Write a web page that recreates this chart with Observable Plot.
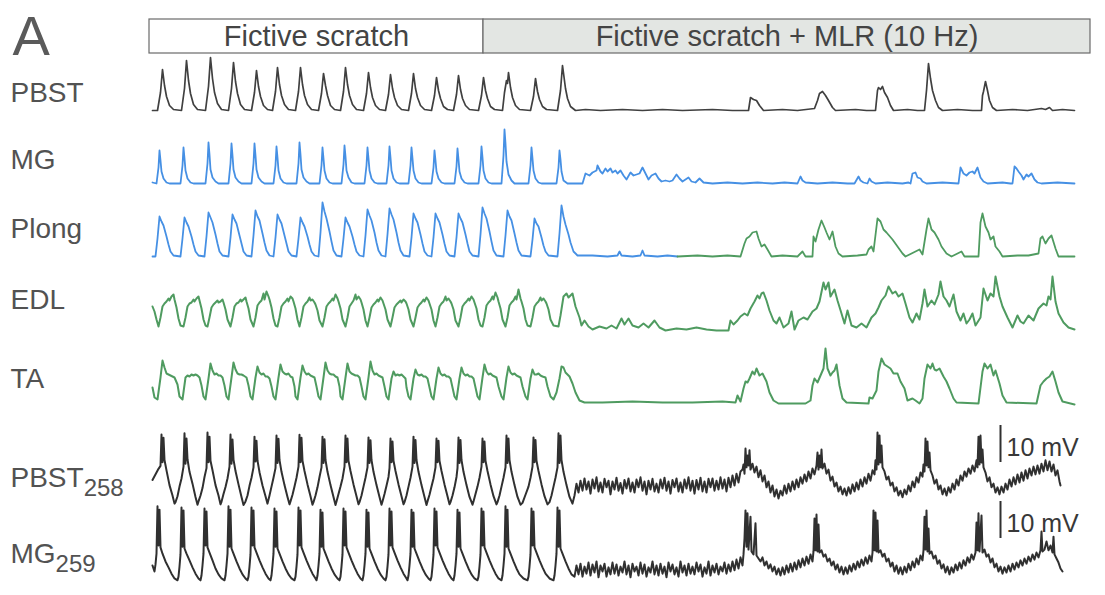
<!DOCTYPE html>
<html>
<head>
<meta charset="utf-8">
<script src="https://cdn.jsdelivr.net/npm/d3@7"></script>
<script src="https://cdn.jsdelivr.net/npm/@observablehq/plot@0.6"></script>
<style>
  html, body { margin: 0; padding: 0; background: #fff; }
  #chart svg { display: block; }
</style>
</head>
<body>
<div id="chart"></div>
<script>
// Recording conditions along the time axis (time in 10-ms bins)
const conditions = [
  {label: "Fictive scratch", start: -3, end: 331},
  {label: "Fictive scratch + MLR (10 Hz)", start: 331, end: 938}
];

// Channel names (ENG nerves, then two intracellular motoneurons)
const channels = ["PBST", "MG", "Plong", "EDL", "TA", "PBST258", "MG259"];
const labelParts = {PBST258: ["PBST", "258"], MG259: ["MG", "259"]};

// Scale bars for the intracellular rows
const scaleBars = [{channel: "PBST258", mV: 10}, {channel: "MG259", mV: 10}];

// Rectified/integrated ENG traces: flat [t, amplitude] pairs (arbitrary units)
const PBST = [0,0, 5,0, 8,18, 10,41, 12,25, 14,14, 17,5, 21,1,
  29,0, 32,22, 34,50, 36,30, 38,17, 41,6, 45,1,
  53,0, 56,24, 58,53, 60,32, 62,18, 65,7, 69,1,
  76,0, 79,22, 81,48, 83,29, 85,17, 88,6, 92,1,
  99,0, 102,18, 104,40, 106,24, 108,14, 111,5, 115,1,
  120,0, 123,19, 125,43, 127,26, 129,15, 132,6, 136,1,
  143,0, 146,19, 148,43, 150,26, 152,15, 155,6, 159,1,
  166,0, 169,17, 171,37, 173,25, 175,15, 178,5, 182,1,
  188,0, 191,19, 193,43, 195,26, 197,15, 200,6, 204,1,
  211,0, 214,17, 216,38, 218,23, 220,13, 223,5, 227,1,
  233,0, 236,16, 238,36, 240,22, 242,13, 245,5, 249,1,
  256,0, 259,17, 261,37, 263,22, 265,13, 268,5, 272,1,
  279,0, 282,15, 284,33, 286,20, 288,12, 291,4, 295,1,
  301,0, 304,16, 306,35, 308,21, 310,12, 313,5, 317,1,
  326,0, 329,15, 331,33, 333,20, 335,12, 338,4, 342,1,
  350,0, 352,18, 354,30, 355,27, 356,38, 358,23, 360,13, 363,5, 367,1,
  378,0, 381,14, 383,32, 385,19, 387,11, 390,4, 394,1,
  405,0, 408,20, 410,45, 413,22, 415,12, 418,4, 423,0,
  433,1, 448,0, 470,1, 490,0, 510,1, 530,0, 560,1, 580,0,
  596,0, 598,13, 601,11, 604,10, 607,5, 611,0, 630,1, 645,0,
  662,2, 665,10, 667,17, 670,19, 673,15, 676,10, 680,3, 683,0, 703,1, 714,0,
  723,0, 725,20, 726,23, 728,21, 730,24, 732,18, 735,13, 738,5, 741,0, 755,1, 765,0,
  772,0, 774,20, 776,47, 778,32, 780,20, 783,10, 786,3, 790,0, 805,1, 820,0,
  829,0, 830,15, 831,19, 833,29, 835,20, 837,10, 840,3, 844,0, 860,1, 875,0,
  889,2, 893,1, 897,3, 900,0, 910,1, 922,0];

const MG = [0,1, 4,0, 6,16, 7,33, 8,23, 9,12, 11,5, 14,1, 17,0,
  28,0, 30,18, 31,36, 32,25, 33,13, 35,5, 38,1, 41,0,
  53,0, 55,20, 56,41, 57,29, 58,14, 60,6, 63,2, 66,0,
  76,0, 78,20, 79,40, 80,28, 81,14, 83,6, 86,2, 89,0,
  99,0, 101,20, 102,40, 103,28, 104,14, 106,6, 109,2, 112,0,
  121,0, 123,18, 124,37, 125,26, 126,13, 128,5, 131,1, 134,0,
  144,0, 146,20, 147,41, 148,29, 149,14, 151,6, 154,2, 157,0,
  167,0, 169,18, 170,36, 171,25, 172,13, 174,5, 177,1, 180,0,
  189,0, 191,19, 192,38, 193,27, 194,13, 196,6, 199,1, 202,0,
  212,0, 214,18, 215,36, 216,25, 217,13, 219,5, 222,1, 225,0,
  234,0, 236,18, 237,37, 238,26, 239,13, 241,5, 244,1, 247,0,
  256,0, 258,18, 259,36, 260,25, 261,13, 263,5, 266,1, 269,0,
  279,0, 281,16, 282,33, 283,23, 284,12, 286,5, 289,1, 292,0,
  302,0, 304,17, 305,35, 306,24, 307,12, 309,5, 312,1, 315,0,
  326,0, 328,18, 329,37, 330,26, 331,13, 333,5, 336,1, 339,0,
  349,0, 351,28, 352,54, 353,40, 354,22, 356,9, 359,3, 362,0,
  376,0, 378,18, 379,36, 380,25, 381,13, 383,5, 386,1, 389,0,
  404,0, 406,16, 407,33, 408,24, 409,12, 411,3, 415,0, 430,0,
  433,10, 437,8, 440,11, 444,13, 445,18, 448,12, 450,10, 453,15, 455,12, 458,15, 460,11,
  463,13, 465,10, 468,13, 471,8, 474,4, 478,11, 481,8, 484,9, 487,10, 490,16, 493,10,
  496,4, 499,8, 503,10, 506,5, 509,2, 513,3, 517,2, 520,3, 524,9, 527,5, 530,2, 536,6,
  539,2, 543,1, 547,5, 551,1, 560,0, 575,1, 590,0, 605,1, 620,0, 632,1, 645,0,
  648,7, 650,3, 653,1, 665,0, 680,1, 695,0, 702,0, 706,7, 708,3, 711,1, 715,0, 717,5,
  719,2, 723,0, 735,1, 750,0, 756,1, 758,0, 760,10, 763,11, 765,6, 768,5, 770,2, 774,0,
  790,1, 806,0, 808,16, 811,10, 814,8, 817,11, 820,12, 822,10, 825,16, 828,6, 831,2, 835,0,
  850,1, 858,0, 860,0, 862,17, 864,15, 866,12, 869,8, 871,4, 874,9, 876,7, 879,10, 882,4,
  885,1, 889,0, 905,1, 922,0];

const Plong = [0,0, 3,0, 5,18, 7,40, 9,35, 11,31, 14,20, 16,12, 18,5, 21,1,
  28,0, 30,18, 32,39, 34,34, 36,30, 39,20, 41,12, 43,5, 46,1,
  52,0, 54,20, 56,44, 58,39, 60,34, 63,22, 65,13, 67,5, 70,1,
  76,0, 78,19, 80,42, 82,37, 84,33, 87,21, 89,13, 91,5, 94,1,
  99,0, 101,21, 103,46, 105,40, 107,36, 110,23, 112,14, 114,6, 117,1,
  121,0, 123,19, 125,42, 127,37, 129,33, 132,21, 134,13, 136,5, 139,1,
  144,0, 146,18, 148,39, 150,34, 152,30, 155,20, 157,12, 159,5, 162,1,
  166,0, 168,24, 170,54, 172,45, 174,38, 177,25, 179,15, 181,6, 184,1,
  189,0, 191,18, 193,39, 195,34, 197,30, 200,20, 202,12, 204,5, 207,1,
  211,0, 213,21, 215,47, 217,41, 219,36, 222,24, 224,14, 226,6, 229,1,
  233,0, 235,22, 237,48, 239,42, 241,37, 244,24, 246,14, 248,6, 251,1,
  257,0, 259,19, 261,43, 263,38, 265,34, 268,22, 270,13, 272,5, 275,1,
  279,0, 281,19, 283,43, 285,38, 287,34, 290,22, 292,13, 294,5, 297,1,
  302,0, 304,19, 306,43, 308,38, 310,34, 313,22, 315,13, 317,5, 320,1,
  326,0, 328,22, 330,49, 332,43, 334,38, 337,25, 339,15, 341,6, 344,1,
  351,0, 353,21, 355,46, 357,40, 359,36, 362,23, 364,14, 366,6, 369,1,
  378,0, 380,17, 382,38, 384,33, 386,30, 389,19, 391,11, 393,5, 396,1,
  405,0, 407,23, 409,51, 411,40, 413,32, 416,22, 418,14, 421,5, 425,1,
  440,1, 455,0, 465,1, 467,5, 469,1, 480,0, 488,1, 490,6, 492,1, 505,0, 515,1, 525,0,
  545,1, 560,0, 575,1, 588,0, 592,13, 594,18, 597,20, 600,24, 604,25, 606,18, 609,10,
  612,12, 615,7, 619,0, 630,1, 645,0, 650,5, 653,0, 660,0, 661,20, 663,15, 666,27, 669,36,
  672,29, 674,24, 677,17, 680,25, 683,10, 686,3, 690,0, 705,1, 714,2, 716,7, 719,10, 721,5,
  725,38, 728,35, 731,27, 734,24, 740,17, 745,10, 750,3, 753,0, 763,5, 767,7, 770,2, 774,27,
  776,38, 779,27, 782,24, 786,17, 789,10, 794,3, 799,0, 809,5, 812,0, 826,0, 828,34, 830,43,
  833,30, 836,24, 838,17, 841,20, 843,10, 847,5, 850,0, 865,1, 876,1, 886,3, 888,18, 890,20,
  893,13, 896,18, 899,21, 903,8, 906,0, 922,0];
// Plong switches from the scratch overlay colour to the MLR overlay colour here
const plongSwitch = 525;

const EDL = [0,23, 2,18, 4,10,
  6,3, 8,12, 10,23, 12,26, 14,28, 16,31, 17,29, 19,33, 21,35, 22,30, 24,22, 26,11, 28,4,
  31,3, 33,12, 35,23, 37,26, 39,27, 41,30, 42,28, 44,31, 46,33, 47,29, 49,21, 51,10, 53,4,
  55,3, 57,12, 59,22, 61,25, 63,27, 65,29, 66,27, 68,28, 70,30, 71,27, 73,20, 75,10,
  78,3, 80,12, 82,23, 84,26, 86,27, 88,30, 89,28, 91,30, 93,32, 94,28, 96,21, 98,10,
  101,3, 103,12, 105,24, 107,27, 109,29, 111,36, 112,30, 114,38, 116,33, 117,30, 119,22, 121,11, 123,4,
  125,3, 127,12, 129,23, 131,26, 133,28, 135,31, 136,28, 138,33, 140,31, 141,28, 143,21, 145,10,
  147,3, 149,12, 151,23, 153,26, 155,28, 157,32, 158,29, 160,30, 162,27, 163,25, 165,19, 167,9,
  170,3, 172,12, 174,23, 176,26, 178,28, 180,31, 181,29, 183,35, 185,31, 186,28, 188,21, 190,10,
  193,3, 195,12, 197,23, 199,26, 201,29, 203,35, 204,30, 206,33, 208,30, 209,27, 211,20, 213,9,
  215,3, 217,12, 219,22, 221,25, 223,27, 225,30, 226,28, 228,32, 230,29, 231,26, 233,20, 235,10,
  238,3, 240,12, 242,22, 244,25, 246,27, 248,29, 249,27, 251,30, 253,28, 254,26, 256,20, 258,10,
  261,3, 263,12, 265,22, 267,25, 269,27, 271,30, 272,28, 274,32, 276,29, 277,26, 279,20, 281,9,
  283,3, 285,12, 287,23, 289,26, 291,28, 293,33, 294,29, 296,31, 298,28, 299,26, 301,20, 303,9,
  306,3, 308,12, 310,23, 312,26, 314,28, 316,31, 317,29, 319,33, 321,30, 322,27, 324,21, 326,10, 328,4,
  330,3, 332,12, 334,24, 336,27, 338,29, 340,33, 341,30, 343,37, 345,32, 346,28, 348,21, 350,10,
  353,3, 355,12, 357,24, 359,27, 361,29, 363,33, 364,30, 366,40, 368,31, 369,28, 371,21, 373,10, 375,4,
  378,3, 380,12, 382,23, 384,26, 386,28, 388,32, 389,29, 391,31, 393,28, 394,26, 396,20, 398,10, 401,4,
  406,3, 408,14, 411,33, 414,36, 416,32, 418,34, 420,36, 423,23, 427,12, 429,4, 432,9, 436,3, 440,0,
  447,3, 454,1, 459,4, 464,1, 469,11, 472,5, 476,11, 480,4, 486,2, 491,6, 496,2, 502,9, 507,2,
  513,-1, 524,1, 534,0, 544,2, 554,0, 564,-1, 576,-1,
  578,9, 581,5, 585,9, 588,13, 592,16, 595,14, 598,21, 602,28, 605,34, 607,31, 609,36, 611,37,
  614,29, 617,19, 621,9, 624,6, 627,12, 631,2, 636,6, 639,18, 642,0, 646,9, 651,12, 655,10,
  660,18, 664,21, 667,28, 671,47, 673,40, 676,47, 678,33, 682,40, 685,29, 689,16, 692,6, 695,19,
  699,4, 704,2, 709,6, 714,2, 719,12, 723,16, 726,22, 729,29, 733,34, 736,43, 740,36, 743,38,
  746,33, 750,36, 753,26, 757,12, 760,7, 764,16, 767,10, 770,26, 772,40, 775,23, 779,29, 782,25,
  786,35, 788,48, 791,33, 794,29, 797,23, 801,35, 804,18, 808,9, 811,16, 814,6, 817,10, 820,16,
  823,4, 828,12, 831,41, 835,29, 838,36, 841,33, 843,53, 847,33, 850,23, 855,12, 860,2, 865,14,
  868,8, 871,6, 876,14, 881,9, 886,21, 891,26, 894,24, 896,33, 898,30, 900,53, 903,28, 906,16,
  911,7, 916,2, 922,0];

const TA = [0,15, 2,5,
  5,3, 8,25, 10,42, 12,35, 14,29, 16,28, 18,27, 20,26, 22,25, 25,18, 27,6,
  30,3, 33,25, 35,27, 37,26, 39,28, 41,27, 43,28, 45,27, 47,25, 49,17, 51,6,
  53,3, 56,24, 58,39, 60,32, 62,28, 64,29, 66,27, 68,27, 70,25, 72,17, 74,6,
  76,3, 79,25, 81,40, 83,33, 85,29, 87,28, 89,28, 91,27, 94,25, 96,17, 98,6,
  100,3, 103,25, 105,36, 107,30, 109,28, 111,29, 113,26, 115,26, 117,24, 119,16, 121,6,
  123,3, 126,25, 128,38, 130,31, 132,29, 134,28, 136,29, 138,26, 140,25, 142,16, 143,6,
  145,3, 148,25, 150,37, 152,31, 154,28, 156,29, 158,27, 160,26, 162,25, 164,16, 166,6,
  168,3, 171,25, 173,40, 175,32, 177,29, 179,28, 181,28, 183,26, 185,25, 187,16, 188,6,
  190,3, 193,25, 195,39, 197,31, 199,29, 201,28, 203,27, 205,27, 207,25, 209,16, 211,6,
  213,3, 216,25, 218,41, 220,32, 222,28, 224,29, 226,27, 228,26, 230,25, 232,16, 234,6,
  236,3, 239,24, 241,31, 243,27, 245,28, 247,27, 249,28, 251,26, 253,24, 254,15, 256,6,
  258,3, 261,24, 263,33, 265,28, 267,27, 269,28, 271,26, 273,26, 275,24, 277,15, 279,6,
  281,3, 284,24, 286,35, 288,29, 290,27, 292,28, 294,26, 296,26, 298,24, 300,15, 302,6,
  304,3, 307,24, 309,35, 311,29, 313,27, 315,28, 317,26, 319,26, 321,24, 323,15, 325,6,
  327,3, 330,25, 332,38, 334,31, 336,28, 338,29, 340,27, 342,26, 344,25, 346,16, 349,6,
  351,3, 354,25, 356,36, 358,30, 360,28, 362,29, 364,27, 366,26, 368,25, 370,16, 373,6,
  375,3, 378,24, 380,33, 382,28, 384,28, 386,29, 388,27, 390,26, 393,25, 395,16, 398,6,
  401,3, 404,10, 407,24, 409,36, 411,35, 413,30, 415,28, 417,26, 420,19, 423,10, 427,2, 432,0,
  450,0, 480,1, 510,0, 540,0, 570,1, 583,0,
  585,7, 588,1, 591,14, 593,21, 595,20, 597,24, 600,31, 602,28, 604,34, 607,27, 610,29, 614,21,
  617,10, 621,2, 626,-1, 653,-1,
  658,2, 660,17, 662,24, 665,20, 668,27, 671,34, 673,54, 675,34, 678,27, 680,30, 682,32, 684,38,
  687,17, 690,4, 694,0, 716,-1,
  717,5, 720,4, 724,12, 726,31, 729,44, 731,40, 732,38, 735,36, 738,34, 741,29, 745,29, 748,21,
  752,14, 755,2, 760,4, 763,2, 767,-1,
  770,4, 772,24, 775,38, 778,34, 780,39, 782,33, 784,32, 787,34, 791,26, 794,21, 797,14, 801,4,
  804,0, 826,-1,
  830,31, 832,39, 835,34, 838,38, 841,27, 843,32, 847,19, 850,7, 854,0, 884,-1,
  888,17, 891,21, 894,24, 897,26, 900,31, 903,21, 906,10, 910,1, 922,-2];

// Intracellular membrane potential: flat [t, mV] pairs, relative to each row's reference
const PBST258 = [0,-1.2, 2,-0.2, 4,0.8, 6,1.8, 8,2.6, 9,11.1, 10,3.6, 11,10.2, 12,4.2, 14,1.4, 17,-2.6, 20,-5.4, 22,-7.6,
  23,-7.2, 25,-5.6, 27,-3.0, 29,-0.8, 31,2.4, 32,11.4, 33,3.2, 34,10.0, 35,4.4, 37,1.0, 40,-2.2, 43,-5.8, 45,-7.9,
  46,-7.0, 48,-5.4, 50,-3.4, 52,-0.4, 54,2.0, 55,11.6, 56,3.6, 57,10.5, 58,4.0, 60,1.4, 63,-2.6, 66,-5.4, 68,-7.8,
  69,-7.1, 71,-5.0, 73,-3.1, 75,-0.8, 77,2.4, 78,11.1, 79,3.2, 80,9.7, 81,4.3, 83,1.2, 86,-2.4, 89,-5.8, 91,-8.0,
  93,-7.0, 95,-5.4, 97,-2.8, 99,-0.6, 101,2.2, 102,10.5, 103,3.8, 104,9.4, 105,4.0, 107,0.9, 110,-2.7, 113,-5.6,
  115,-7.6, 117,-5.4, 119,-3.0, 121,-0.6, 123,2.0, 124,10.8, 125,3.4, 126,9.9, 127,4.2, 129,1.0, 132,-2.6, 135,-5.8, 137,-7.8,
  138,-7.0, 140,-5.2, 142,-3.0, 144,-0.6, 146,2.4, 147,11.0, 148,3.6, 149,10.2, 150,4.0, 152,1.2, 155,-2.4, 158,-5.6, 160,-7.9,
  161,-7.2, 163,-5.4, 165,-3.2, 167,-0.4, 169,2.2, 170,10.5, 171,3.4, 172,9.8, 173,4.2, 175,1.0, 178,-2.6, 181,-5.8, 183,-8.0,
  184,-7.0, 186,-5.0, 188,-3.0, 190,-0.8, 192,2.4, 193,10.8, 194,3.6, 195,10.0, 196,4.0, 198,1.2, 201,-2.4, 204,-5.6, 206,-7.8,
  207,-7.2, 209,-5.4, 211,-3.0, 213,-0.6, 215,2.2, 216,10.3, 217,3.4, 218,9.5, 219,4.2, 221,1.0, 224,-2.6, 227,-5.8, 229,-7.9,
  230,-7.0, 232,-5.0, 234,-2.8, 236,-0.4, 237,2.0, 238,10.0, 239,3.6, 240,9.2, 241,4.0, 243,1.2, 246,-2.4, 249,-5.6, 251,-7.8,
  252,-7.2, 254,-5.4, 256,-3.0, 258,-0.6, 260,2.4, 261,10.5, 262,3.4, 263,9.6, 264,4.2, 266,1.0, 269,-2.6, 272,-5.8, 274,-8.0,
  275,-7.0, 277,-5.2, 279,-3.0, 281,-0.8, 283,2.2, 284,10.0, 285,3.6, 286,9.4, 287,4.0, 289,1.2, 292,-2.4, 295,-5.6, 297,-7.8,
  298,-7.2, 300,-5.4, 302,-3.2, 304,-0.4, 305,2.0, 306,10.3, 307,3.4, 308,9.6, 309,4.2, 311,1.0, 314,-2.6, 317,-5.8, 320,-7.9,
  321,-7.0, 323,-5.0, 325,-3.0, 327,-0.6, 329,2.4, 330,10.0, 331,3.6, 332,9.2, 333,4.0, 335,1.2, 338,-2.4, 341,-5.6, 344,-7.8,
  345,-7.2, 347,-5.4, 349,-3.0, 351,-0.6, 353,2.2, 354,10.8, 355,3.4, 356,10.0, 357,4.2, 359,1.0, 362,-2.6, 365,-5.8, 368,-7.9,
  370,-7.4, 373,-5.2, 376,-3.0, 378,-0.6, 380,2.4, 381,10.3, 382,3.6, 383,9.6, 384,4.0, 386,1.2, 389,-2.4, 392,-5.6, 395,-7.8,
  397,-7.2, 399,-5.4, 401,-3.0, 403,-0.6, 405,2.2, 406,11.4, 407,3.4, 408,10.8, 409,4.2, 411,1.0, 414,-2.6, 417,-5.8, 420,-7.6,
  422,-5.4, 424,-2.2, 426,-4.6, 428,-1.4, 430,-4.1, 432,-0.8, 434,-3.8, 436,-1.6, 438,-4.9, 440,-1.1, 442,-3.5, 444,-0.5,
  446,-4.3, 448,-1.9, 450,-4.6, 452,-0.9, 454,-3.2, 456,-1.4, 458,-5.1, 460,-1.6, 462,-3.8, 464,-0.6, 466,-4.1, 468,-2.0,
  470,-4.9, 472,-1.2, 474,-3.5, 476,-0.8, 478,-4.3, 480,-1.9, 482,-4.6, 484,-1.1, 486,-3.2, 488,-0.5, 490,-4.1, 492,-1.6,
  494,-5.1, 496,-1.4, 498,-3.8, 500,-0.9, 502,-4.3, 504,-2.2, 506,-4.6, 508,-1.1, 510,-3.5, 512,-0.6, 514,-4.1, 516,-1.6,
  518,-4.9, 520,-1.2, 522,-3.2, 524,-0.8, 526,-4.3, 528,-1.9, 530,-4.6, 532,-1.1, 534,-3.5, 536,-0.5, 538,-4.1, 540,-1.4,
  542,-4.9, 544,-1.2, 546,-3.8, 548,-0.6, 550,-4.3, 552,-1.6, 554,-4.6, 556,-0.9, 558,-3.2, 560,-0.8, 562,-4.1, 564,-1.4,
  566,-3.8, 568,-0.5, 570,-3.5, 572,-1.1, 574,-4.3, 576,-0.6, 578,-3.2, 580,0.0, 582,-2.7, 584,0.5, 586,-1.9, 588,1.1,
  590,1.6, 591,3.0, 592,0.5, 593,7.3, 594,2.2, 595,5.4, 596,2.7, 597,6.8, 598,1.6, 600,3.2, 602,0.8, 604,2.4, 606,-0.5,
  608,1.4, 610,-1.6, 612,0.0, 614,-3.2, 616,-1.6, 618,-4.6, 620,-2.7, 622,-5.7, 624,-3.8, 626,-6.2, 628,-4.1, 630,-5.4,
  632,-2.7, 634,-4.9, 636,-2.2, 638,-4.3, 640,-1.6, 642,-3.8, 644,-1.1, 646,-3.2, 648,-0.5, 650,-2.2, 652,0.3, 654,-1.6,
  656,1.1, 658,-0.8, 660,1.9, 662,0.3, 664,2.7, 665,6.2, 666,1.6, 667,5.4, 668,2.2, 669,7.0, 670,1.9, 672,3.2, 674,0.5,
  676,1.6, 678,-1.4, 680,-0.3, 682,-3.0, 684,-1.9, 686,-4.3, 688,-3.0, 690,-5.1, 692,-3.5, 694,-5.4, 696,-3.2, 698,-4.9,
  700,-2.4, 702,-4.3, 704,-1.9, 706,-3.8, 708,-1.1, 710,-3.0, 712,-0.5, 714,-2.2, 716,0.5, 718,-1.4, 720,1.4, 722,0.3,
  723,4.1, 724,1.6, 725,11.6, 726,3.0, 727,10.8, 728,3.5, 729,8.1, 730,2.2, 732,1.1, 734,-1.1, 736,-0.3, 738,-2.7,
  740,-1.9, 742,-4.3, 744,-3.2, 746,-5.4, 748,-4.1, 750,-5.9, 752,-3.8, 754,-5.1, 756,-2.7, 758,-4.3, 760,-1.6, 762,-3.2,
  764,-0.5, 766,-1.9, 768,0.8, 770,-0.3, 771,3.0, 772,1.1, 773,10.0, 774,2.7, 775,9.2, 776,2.2, 777,6.2, 778,1.4, 780,0.0,
  782,-2.2, 784,-1.1, 786,-3.8, 788,-2.7, 790,-5.1, 792,-3.5, 794,-5.4, 796,-3.2, 798,-4.6, 800,-2.2, 802,-3.8, 804,-1.1,
  806,-2.7, 808,0.0, 810,-1.4, 812,1.1, 814,-0.3, 816,1.9, 818,0.5, 820,2.7, 822,1.1, 824,4.1, 825,2.2, 826,10.5, 827,3.0,
  828,10.8, 829,3.5, 830,7.0, 831,2.2, 833,0.8, 835,-1.6, 837,-0.5, 839,-3.2, 841,-2.2, 843,-4.6, 845,-3.2, 847,-5.1,
  849,-3.0, 851,-4.6, 853,-2.2, 855,-3.8, 857,-1.1, 859,-3.0, 861,-0.5, 863,-2.4, 865,0.3, 867,-1.9, 869,0.8, 871,-1.4,
  873,1.4, 875,-0.8, 877,1.9, 879,0.0, 881,2.4, 883,0.3, 885,2.7, 887,0.5, 889,3.2, 891,1.1, 893,4.1, 895,1.4, 897,3.8,
  899,1.1, 901,3.0, 903,0.0, 905,1.4, 907,-1.6, 908,-2.7];

const MG259 = [0,-4.6, 2,-6.2, 3,-4.3, 4,-1.4, 5,11.4, 6,0.8, 7,10.5, 8,0.3, 10,-1.4, 13,-3.5, 16,-5.1, 19,-6.8, 22,-8.1, 25,-8.6,
  26,-7.6, 27,-4.9, 28,-1.6, 29,11.1, 30,0.5, 31,10.3, 32,0.0, 34,-1.4, 37,-3.2, 40,-5.1, 43,-6.8, 46,-8.1, 48,-8.6,
  49,-7.3, 50,-4.6, 51,-1.4, 52,10.8, 53,0.8, 54,10.0, 55,0.3, 57,-1.1, 60,-3.2, 63,-5.4, 66,-7.0, 69,-8.1, 72,-8.6,
  73,-7.3, 74,-4.6, 75,-1.4, 76,11.4, 77,0.5, 78,10.5, 79,0.0, 81,-1.4, 84,-3.5, 87,-5.4, 90,-7.0, 93,-8.1, 95,-8.6,
  96,-7.6, 97,-4.9, 98,-1.6, 99,11.1, 100,0.8, 101,10.3, 102,0.3, 104,-1.1, 107,-3.2, 110,-5.1, 113,-6.8, 116,-8.1, 118,-8.6,
  119,-7.3, 120,-4.6, 121,-1.4, 122,10.8, 123,0.5, 124,10.0, 125,0.0, 127,-1.4, 130,-3.5, 133,-5.4, 136,-7.0, 139,-8.1, 142,-8.6,
  143,-7.6, 144,-4.9, 145,-1.6, 146,11.1, 147,0.8, 148,10.3, 149,0.3, 151,-1.1, 154,-3.2, 157,-5.1, 160,-6.8, 163,-8.1, 164,-8.6,
  165,-7.3, 166,-4.6, 167,-1.4, 168,10.5, 169,0.5, 170,9.7, 171,0.0, 173,-1.4, 176,-3.5, 179,-5.4, 182,-7.0, 185,-8.1, 187,-8.6,
  188,-7.6, 189,-4.9, 190,-1.6, 191,10.8, 192,0.8, 193,10.0, 194,0.3, 196,-1.1, 199,-3.2, 202,-5.1, 205,-6.8, 208,-8.1, 210,-8.6,
  211,-7.3, 212,-4.6, 213,-1.4, 214,10.5, 215,0.5, 216,9.7, 217,0.0, 219,-1.4, 222,-3.5, 225,-5.4, 228,-7.0, 231,-8.1, 233,-8.6,
  234,-7.6, 235,-4.9, 236,-1.6, 237,10.8, 238,0.8, 239,10.0, 240,0.3, 242,-1.1, 245,-3.2, 248,-5.1, 251,-6.8, 254,-8.1, 255,-8.6,
  256,-7.3, 257,-4.6, 258,-1.4, 259,10.5, 260,0.5, 261,9.7, 262,0.0, 264,-1.4, 267,-3.5, 270,-5.4, 273,-7.0, 276,-8.1, 278,-8.6,
  279,-7.6, 280,-4.9, 281,-1.6, 282,10.8, 283,0.8, 284,10.0, 285,0.3, 287,-1.1, 290,-3.2, 293,-5.1, 296,-6.8, 299,-8.1, 301,-8.6,
  302,-7.3, 303,-4.6, 304,-1.4, 305,10.5, 306,0.5, 307,9.7, 308,0.0, 310,-1.4, 313,-3.5, 316,-5.4, 319,-7.0, 322,-8.1, 325,-8.6,
  326,-7.6, 327,-4.9, 328,-1.6, 329,10.8, 330,0.8, 331,10.0, 332,0.3, 334,-1.1, 337,-3.2, 340,-5.1, 343,-6.8, 346,-8.1, 349,-8.6,
  350,-7.3, 351,-4.6, 352,-1.4, 353,11.4, 354,0.5, 355,10.5, 356,0.0, 358,-1.4, 361,-3.5, 364,-5.4, 367,-7.0, 371,-8.1, 375,-8.6,
  376,-7.6, 377,-4.9, 378,-1.6, 379,10.8, 380,0.8, 381,10.0, 382,0.3, 384,-1.1, 387,-3.2, 390,-5.1, 393,-6.8, 397,-8.1, 401,-8.6,
  402,-7.3, 403,-4.6, 404,-1.4, 405,11.1, 406,0.5, 407,10.3, 408,0.0, 410,-1.4, 413,-3.5, 416,-5.4, 419,-7.0, 422,-7.6,
  424,-4.6, 426,-7.0, 428,-4.1, 430,-7.6, 432,-4.9, 434,-6.8, 436,-3.8, 438,-7.3, 440,-4.3, 442,-6.5, 444,-3.5, 446,-7.8,
  448,-4.6, 450,-6.2, 452,-4.1, 454,-7.6, 456,-5.1, 458,-7.0, 460,-3.8, 462,-6.8, 464,-4.3, 466,-7.3, 468,-4.9, 470,-6.5,
  472,-3.5, 474,-7.0, 476,-4.6, 478,-7.8, 480,-4.1, 482,-6.2, 484,-4.9, 486,-7.3, 488,-3.8, 490,-6.8, 492,-4.3, 494,-7.6,
  496,-5.1, 498,-6.5, 500,-3.5, 502,-7.0, 504,-4.6, 506,-7.3, 508,-4.1, 510,-6.8, 512,-4.9, 514,-7.8, 516,-3.8, 518,-6.2,
  520,-4.3, 522,-7.0, 524,-5.1, 526,-7.6, 528,-3.5, 530,-6.5, 532,-4.6, 534,-7.3, 536,-4.1, 538,-6.8, 540,-4.9, 542,-7.0,
  544,-3.8, 546,-6.2, 548,-4.3, 550,-7.6, 552,-5.1, 554,-6.8, 556,-3.5, 558,-7.3, 560,-4.6, 562,-6.5, 564,-4.1, 566,-7.0,
  568,-4.9, 570,-6.2, 572,-3.8, 574,-6.8, 576,-4.3, 578,-6.2, 580,-3.5, 582,-5.9, 584,-3.0, 586,-5.4, 588,-2.4, 590,-4.6,
  591,-1.6, 592,2.7, 593,10.3, 594,0.5, 595,9.5, 596,-0.3, 598,8.6, 599,-0.8, 601,-1.6, 603,6.8, 604,-1.9, 606,-2.7,
  608,-3.5, 610,-2.4, 612,-4.6, 614,-3.5, 616,-5.4, 618,-4.3, 620,-6.2, 622,-4.9, 624,-7.0, 626,-5.4, 628,-7.3, 630,-5.1,
  632,-7.0, 634,-4.6, 636,-6.5, 638,-4.1, 640,-6.2, 642,-3.8, 644,-5.7, 646,-3.2, 648,-5.1, 650,-2.7, 652,-4.6, 654,-2.2,
  656,-4.1, 658,-1.6, 660,-3.5, 661,-0.8, 662,8.1, 663,-0.5, 664,9.2, 665,-0.8, 666,6.5, 667,-1.1, 669,-0.5, 671,-2.2,
  673,-1.6, 675,-3.5, 677,-2.7, 679,-4.6, 681,-3.5, 683,-5.7, 685,-4.3, 687,-6.5, 689,-4.9, 691,-7.0, 693,-5.1, 695,-6.8,
  697,-4.6, 699,-6.2, 701,-4.1, 703,-5.7, 705,-3.5, 707,-5.1, 709,-3.0, 711,-4.6, 713,-2.4, 715,-4.1, 717,-1.9, 719,-3.5,
  720,-1.1, 721,10.3, 722,-0.5, 723,9.7, 724,-0.8, 725,7.6, 726,-1.1, 728,-0.5, 730,-2.2, 732,-1.4, 734,-3.5, 736,-2.7,
  738,-4.9, 740,-3.8, 742,-6.2, 744,-4.6, 746,-6.8, 748,-5.1, 750,-7.0, 752,-4.9, 754,-6.5, 756,-4.1, 758,-5.9, 760,-3.5,
  762,-5.1, 764,-2.7, 766,-4.3, 768,-1.9, 770,-3.2, 771,-0.5, 772,8.6, 773,-0.3, 774,10.3, 775,-0.8, 776,5.4, 777,-1.4,
  779,-0.8, 781,-2.7, 783,-1.9, 785,-4.1, 787,-3.2, 789,-5.4, 791,-4.3, 793,-6.5, 795,-4.9, 797,-7.0, 799,-5.1, 801,-6.5,
  803,-4.3, 805,-5.9, 807,-3.8, 809,-5.4, 811,-3.2, 813,-4.6, 815,-2.4, 817,-3.8, 819,-1.6, 821,-3.0, 823,-1.1, 824,7.0,
  825,-0.5, 826,9.5, 827,-0.8, 829,8.9, 830,-1.1, 832,-0.3, 834,-2.2, 836,-1.6, 838,-3.8, 840,-2.7, 842,-5.1, 844,-4.1,
  846,-6.2, 848,-4.9, 850,-6.8, 852,-5.1, 854,-6.5, 856,-4.6, 858,-6.2, 860,-4.1, 862,-5.7, 864,-3.8, 866,-5.1, 868,-3.2,
  870,-4.6, 872,-2.7, 874,-4.1, 876,-2.2, 878,-3.5, 880,-1.6, 882,-3.0, 884,-1.1, 886,-2.4, 888,-0.5, 889,4.6, 890,-0.8,
  892,-0.3, 894,1.9, 896,-0.5, 898,0.8, 900,-1.1, 901,3.2, 902,-1.6, 904,-2.7, 906,-3.8, 908,-5.4, 910,-6.2];

// ---- layout ----
const STEP = 73;           // vertical spacing between channel rows
const GAIN = 3.7;          // vertical units per mV on intracellular rows
const zero = name => -(channels.indexOf(name) + 1) * STEP;
const labelLift = {PBST: 17, MG: 23, Plong: 27, EDL: 29, TA: 23, PBST258: -3, MG259: -6};
const barBase = {PBST258: 13, MG259: 10};
const barTime = 848;

const ink = "#404040", cell = "#303030", blue = "#4690e4", green = "#4f9b60";

function points(flat, channel, scale = 1) {
  const out = [];
  for (let i = 0; i < flat.length; i += 2) {
    out.push({channel, t: flat[i], y: zero(channel) + flat[i + 1] * scale});
  }
  return out;
}

const plongPts = points(Plong, "Plong");
const lineOpts = {x: "t", y: "y", strokeWidth: 1.8, strokeLinejoin: "round", strokeLinecap: "round"};

const plot = Plot.plot({
  width: 1105,
  height: 595,
  marginTop: 0,
  marginBottom: 11,
  marginLeft: 152,
  marginRight: 31,
  x: {domain: [0, 922], range: [152, 1074], axis: null},
  y: {domain: [37 - 584, 37], range: [584, 0], axis: null},
  style: {fontFamily: "'Liberation Sans', Arial, Helvetica, sans-serif", background: "#fff", overflow: "visible"},
  marks: [
    // condition boxes
    Plot.rect(conditions.slice(0, 1), {x1: "start", x2: "end", y1: -16, y2: 18, fill: "#ffffff", stroke: "#6a6a6a", strokeWidth: 1.2}),
    Plot.rect(conditions.slice(1), {x1: "start", x2: "end", y1: -16, y2: 18, fill: "#e3e6e3", stroke: "#6a6a6a", strokeWidth: 1.2}),
    Plot.text(conditions, {x: d => (d.start + d.end) / 2, y: 1, text: "label", fontSize: 29, fill: "#444"}),
    // panel letter
    Plot.text(["A"], {frameAnchor: "top-left", text: d => d, dx: -140, dy: 15, lineAnchor: "top", textAnchor: "start", fontSize: 56, fill: "#5a5a5a"}),
    // channel labels
    Plot.text(channels, {frameAnchor: "left", y: d => zero(d) + labelLift[d], text: d => d, dx: -142, textAnchor: "start", fontSize: 28, fill: "#525252"}),
    // ENG traces
    Plot.line(points(PBST, "PBST"), {...lineOpts, stroke: ink, strokeWidth: 1.7}),
    Plot.line(points(MG, "MG"), {...lineOpts, stroke: blue}),
    Plot.line(plongPts.filter(d => d.t <= plongSwitch), {...lineOpts, stroke: blue}),
    Plot.line(plongPts.filter(d => d.t >= plongSwitch), {...lineOpts, stroke: green}),
    Plot.line(points(EDL, "EDL"), {...lineOpts, stroke: green, strokeWidth: 2}),
    Plot.line(points(TA, "TA"), {...lineOpts, stroke: green, strokeWidth: 2}),
    // intracellular traces
    Plot.line(points(PBST258, "PBST258", GAIN), {...lineOpts, stroke: cell, strokeWidth: 2}),
    Plot.line(points(MG259, "MG259", GAIN), {...lineOpts, stroke: cell, strokeWidth: 2}),
    // 10 mV calibration bars
    Plot.ruleX(scaleBars, {x: barTime, y1: d => zero(d.channel) + barBase[d.channel],
      y2: d => zero(d.channel) + barBase[d.channel] + d.mV * GAIN, stroke: cell, strokeWidth: 2}),
    Plot.text(scaleBars, {x: barTime, y: d => zero(d.channel) + barBase[d.channel] + 15,
      text: d => `${d.mV} mV`, dx: 6, textAnchor: "start", fontSize: 25, fill: "#383838"})
  ]
});

// subscripted cell numbers in the channel labels
d3.select(plot).selectAll("text").each(function () {
  const parts = labelParts[this.textContent];
  if (!parts) return;
  const el = d3.select(this);
  el.text(parts[0]);
  el.append("tspan").attr("dy", 9).attr("font-size", 24).text(parts[1]);
});

document.getElementById("chart").append(plot);
</script>
</body>
</html>
